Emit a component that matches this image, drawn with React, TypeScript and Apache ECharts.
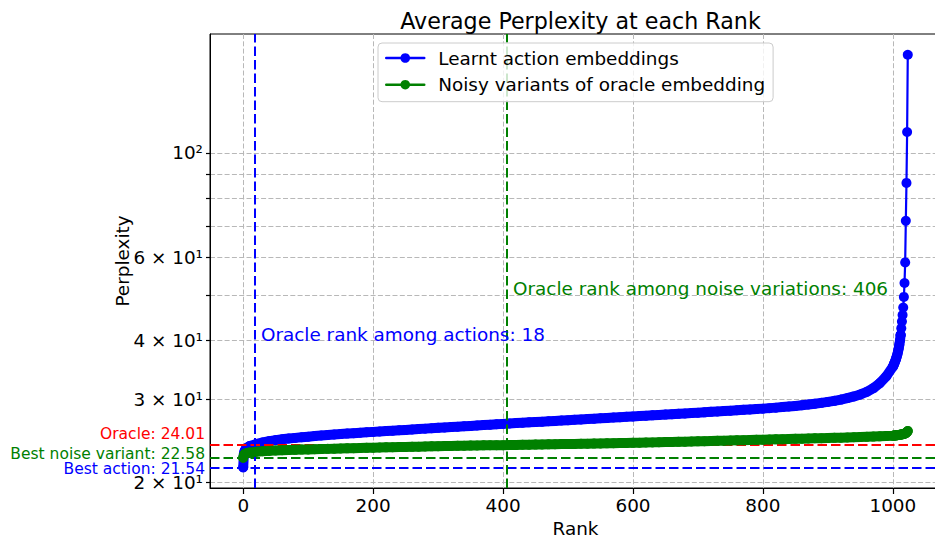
import React, { useEffect, useRef } from "react";
import * as echarts from "echarts";

// ---- data ----
const ranks = [
  0, 1, 2, 3, 4, 5, 6, 7, 8, 9, 10,
  20, 30, 40, 50, 60, 70, 80, 90, 100,
  110, 120, 130, 140, 150, 160, 170, 180, 190, 200,
  210, 220, 230, 240, 250, 260, 270, 280, 290, 300,
  310, 320, 330, 340, 350, 360, 370, 380, 390, 400,
  410, 420, 430, 440, 450, 460, 470, 480, 490, 500,
  510, 520, 530, 540, 550, 560, 570, 580, 590, 600,
  610, 620, 630, 640, 650, 660, 670, 680, 690, 700,
  710, 720, 730, 740, 750, 760, 770, 780, 790, 800,
  810, 820, 830, 840, 850, 860, 870, 880, 890, 900,
  910, 920, 930, 940, 950, 960, 970, 980, 990, 1000,
  1001, 1002, 1003, 1004, 1005, 1006, 1007, 1008, 1009, 1010,
  1011, 1012, 1013, 1014, 1015, 1016, 1017, 1018, 1019, 1020,
  1021, 1022, 1023,
];

const actionPerplexity = [
  21.54, 23.0, 23.3, 23.45, 23.55, 23.62, 23.68, 23.74, 23.79, 23.84, 23.9,
  24.12, 24.32, 24.48, 24.6, 24.7, 24.79, 24.87, 24.95, 25.02,
  25.09, 25.16, 25.22, 25.28, 25.34, 25.4, 25.45, 25.51, 25.56, 25.61,
  25.66, 25.71, 25.76, 25.81, 25.86, 25.91, 25.97, 26.02, 26.07, 26.12,
  26.17, 26.22, 26.27, 26.32, 26.37, 26.43, 26.48, 26.53, 26.58, 26.63,
  26.68, 26.73, 26.78, 26.83, 26.88, 26.92, 26.97, 27.02, 27.07, 27.12,
  27.17, 27.22, 27.27, 27.32, 27.37, 27.42, 27.47, 27.52, 27.57, 27.62,
  27.67, 27.72, 27.77, 27.82, 27.87, 27.92, 27.97, 28.02, 28.08, 28.13,
  28.18, 28.24, 28.29, 28.35, 28.4, 28.46, 28.52, 28.57, 28.63, 28.69,
  28.76, 28.83, 28.91, 28.99, 29.07, 29.17, 29.27, 29.38, 29.51, 29.65,
  29.8, 29.98, 30.2, 30.45, 30.75, 31.15, 31.7, 32.5, 33.6, 35.2,
  35.4, 35.7, 36.0, 36.3, 36.6, 37.0, 37.4, 37.9, 38.5, 39.2,
  40.0, 41.1, 42.5, 43.9, 45.3, 47.0, 49.5, 53.0, 58.6, 71.8,
  86.4, 110.8, 161.6,
];

const noisePerplexity = [
  22.58, 22.85, 22.95, 23.01, 23.04, 23.07, 23.09, 23.11, 23.12, 23.14, 23.15,
  23.24, 23.3, 23.34, 23.38, 23.41, 23.44, 23.46, 23.49, 23.51,
  23.53, 23.55, 23.57, 23.59, 23.61, 23.63, 23.65, 23.67, 23.69, 23.71,
  23.73, 23.75, 23.76, 23.78, 23.8, 23.81, 23.83, 23.85, 23.86, 23.88,
  23.89, 23.91, 23.92, 23.94, 23.95, 23.96, 23.98, 23.99, 24.0, 24.005,
  24.02, 24.03, 24.05, 24.06, 24.07, 24.09, 24.1, 24.11, 24.13, 24.14,
  24.15, 24.17, 24.18, 24.19, 24.21, 24.22, 24.24, 24.25, 24.27, 24.28,
  24.3, 24.31, 24.33, 24.34, 24.36, 24.38, 24.39, 24.41, 24.43, 24.45,
  24.47, 24.49, 24.51, 24.53, 24.55, 24.57, 24.59, 24.61, 24.63, 24.65,
  24.67, 24.69, 24.71, 24.73, 24.75, 24.77, 24.8, 24.82, 24.84, 24.86,
  24.88, 24.9, 24.93, 24.95, 24.98, 25.0, 25.03, 25.06, 25.1, 25.14,
  25.15, 25.16, 25.16, 25.17, 25.18, 25.19, 25.2, 25.21, 25.22, 25.24,
  25.25, 25.27, 25.28, 25.3, 25.32, 25.34, 25.36, 25.39, 25.42, 25.46,
  25.52, 25.6, 25.72,
];

const seriesNames = ["Learnt action embeddings", "Noisy variants of oracle embedding"];
const xTickValues = [0, 200, 400, 600, 800, 1000];
const yTickValues = [20, 30, 40, 50, 60, 70, 80, 90, 100];
const yLabelValues = [20, 30, 40, 60, 100];
const yLabelTexts = ["2 × 10¹", "3 × 10¹", "4 × 10¹", "6 × 10¹", "10²"];

const bestAction = 21.54;
const bestNoise = 22.58;
const oraclePerplexity = 24.01;
const oracleRankActions = 18;
const oracleRankNoise = 406;

const FONT = "DejaVu Sans";
const FS = 18.4;
// index from which the blue markers separate (drawn with a thin line)
const tailStart = ranks.indexOf(1012);

export default function App() {
  const ref = useRef<HTMLDivElement>(null);

  useEffect(() => {
    if (!ref.current) return;
    const chart = echarts.init(ref.current, null, { renderer: "svg" });

    const gridLine = { show: true, lineStyle: { color: "#b8b8b8", width: 1, type: [5, 2.3] } };
    const refLine = (color: string) => ({ color, width: 2, type: [9.5, 4] });
    const blueData = ranks.map((r, i) => [r, actionPerplexity[i]]);
    const greenData = ranks.map((r, i) => [r, noisePerplexity[i]]);
    const sideLabel = (text: string, color: string, cy: number) => ({
      type: "text",
      right: 935 - 205,
      top: cy - 6.5,
      style: { text, fill: color, font: `15.5px "${FONT}"`, lineHeight: 13, verticalAlign: "top" },
    });

    chart.setOption({
      animation: false,
      title: {
        text: "Average Perplexity at each Rank",
        left: 575.5,
        textAlign: "center",
        top: 5,
        textStyle: { fontFamily: FONT, fontSize: 22.2, fontWeight: "normal", color: "#000" },
      },
      legend: {
        data: seriesNames,
        orient: "vertical",
        left: 378,
        top: 43,
        z: 10,
        padding: [5, 8, 7, 7],
        itemGap: 6.7,
        itemWidth: 38,
        itemHeight: 12,
        backgroundColor: "rgba(255,255,255,0.8)",
        borderColor: "#cccccc",
        borderWidth: 1,
        borderRadius: 4,
        lineStyle: { width: 2.5 },
        textStyle: { fontFamily: FONT, fontSize: FS, color: "#000", lineHeight: 20, padding: [0, 0, 0, 9] },
      },
      grid: {
        left: 210,
        right: -6,
        top: 34,
        bottom: 51,
        show: true,
        borderColor: "#000",
        borderWidth: 1,
        containLabel: false,
        outerBoundsMode: "none",
      },
      xAxis: {
        type: "value",
        min: -51.15,
        max: 1074.15,
        name: "Rank",
        nameLocation: "middle",
        nameGap: 27,
        nameTextStyle: { fontFamily: FONT, fontSize: FS, color: "#000" },
        axisLine: { show: true, onZero: false, lineStyle: { color: "#000", width: 1 } },
        axisTick: { show: true, length: 6, customValues: xTickValues, lineStyle: { color: "#000", width: 1.2 } },
        axisLabel: {
          customValues: xTickValues,
          fontFamily: FONT,
          fontSize: FS,
          color: "#000",
          margin: 8.5,
          formatter: (v: number) => String(Math.round(v)),
        },
        splitLine: gridLine,
      },
      yAxis: {
        type: "log",
        logBase: 10,
        min: 19.47,
        max: 178.8,
        name: "Perplexity",
        nameLocation: "middle",
        nameGap: 79,
        nameMoveOverlap: false,
        nameTextStyle: { fontFamily: FONT, fontSize: FS, color: "#000" },
        axisLine: { show: true, onZero: false, lineStyle: { color: "#000", width: 1 } },
        axisTick: { show: true, length: 4, customValues: yTickValues, lineStyle: { color: "#000", width: 1.2 } },
        axisLabel: {
          customValues: yLabelValues,
          fontFamily: FONT,
          fontSize: FS,
          lineHeight: 16,
          color: "#000",
          margin: 7,
          formatter: (v: number) => {
            const i = yLabelValues.findIndex((t) => Math.abs(t - v) < 1e-6);
            return i >= 0 ? yLabelTexts[i] : "";
          },
        },
        splitLine: gridLine,
      },
      series: [
        {
          name: seriesNames[0],
          type: "line",
          z: 2,
          data: blueData.slice(0, tailStart + 1),
          symbol: "circle",
          symbolSize: 10,
          showAllSymbol: true,
          itemStyle: { color: "#0000ff" },
          lineStyle: { color: "#0000ff", width: 10, cap: "round", join: "round" },
          markLine: {
            silent: true,
            symbol: "none",
            z: 5,
            label: { show: false },
            data: [
              { yAxis: oraclePerplexity, lineStyle: refLine("#ff0000") },
              { yAxis: bestNoise, lineStyle: refLine("#008000") },
              { yAxis: bestAction, lineStyle: refLine("#0000ff") },
              { xAxis: oracleRankActions, lineStyle: refLine("#0000ff") },
              { xAxis: oracleRankNoise, lineStyle: refLine("#008000") },
            ],
          },
          markPoint: {
            silent: true,
            symbol: "circle",
            symbolSize: 1,
            itemStyle: { color: "transparent" },
            data: [
              {
                coord: [oracleRankActions + 10, 40],
                label: {
                  show: true,
                  position: [0, 0],
                  align: "left",
                  verticalAlign: "middle",
                  offset: [0, -6],
                  formatter: "Oracle rank among actions: " + oracleRankActions,
                  fontFamily: FONT,
                  fontSize: FS,
                  color: "#0000ff",
                },
              },
              {
                coord: [oracleRankNoise + 10, 50],
                label: {
                  show: true,
                  position: [0, 0],
                  align: "left",
                  verticalAlign: "middle",
                  offset: [0, -6],
                  formatter: "Oracle rank among noise variations: " + oracleRankNoise,
                  fontFamily: FONT,
                  fontSize: FS,
                  color: "#008000",
                },
              },
            ],
          },
        },
        {
          name: seriesNames[0],
          type: "line",
          z: 2,
          data: blueData.slice(tailStart),
          symbol: "circle",
          symbolSize: 10,
          showAllSymbol: true,
          itemStyle: { color: "#0000ff" },
          lineStyle: { color: "#0000ff", width: 2.2 },
        },
        {
          name: seriesNames[1],
          type: "line",
          z: 6,
          data: greenData,
          symbol: "circle",
          symbolSize: 10,
          showAllSymbol: true,
          itemStyle: { color: "#008000" },
          lineStyle: { color: "#008000", width: 10, cap: "round", join: "round" },
        },
      ],
      graphic: [
        sideLabel("Oracle: " + oraclePerplexity.toFixed(2), "#ff0000", 432),
        sideLabel("Best noise variant: " + bestNoise.toFixed(2), "#008000", 452.5),
        sideLabel("Best action: " + bestAction.toFixed(2), "#0000ff", 467),
      ],
    });

    return () => chart.dispose();
  }, []);

  return (
    <div
      ref={ref}
      style={{ position: "fixed", left: 0, top: 0, width: 935, height: 539, background: "#fff" }}
    />
  );
}
